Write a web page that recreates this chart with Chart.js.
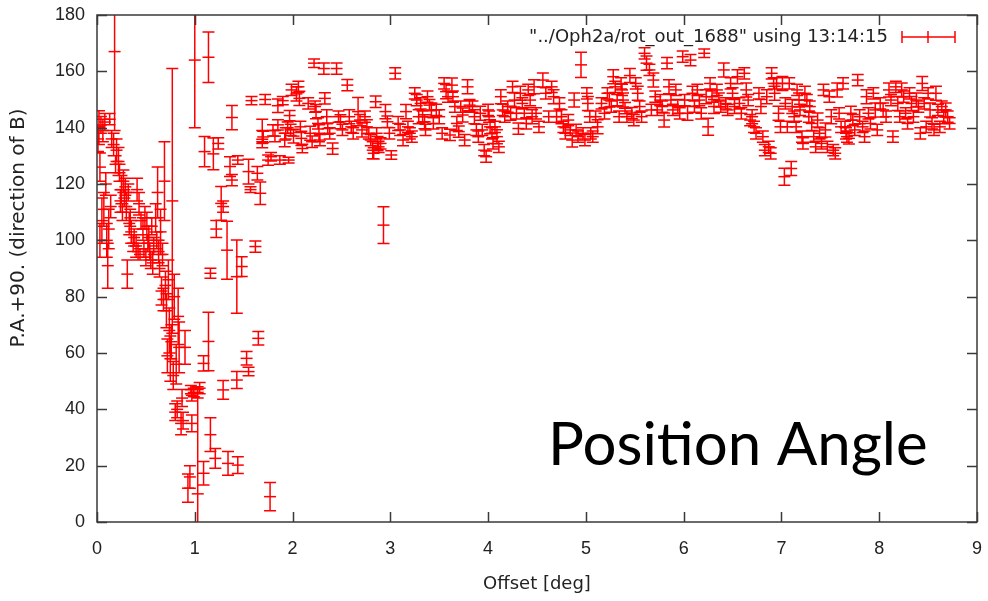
<!DOCTYPE html>
<html>
<head>
<meta charset="utf-8">
<title>Position Angle</title>
<script src="https://cdn.jsdelivr.net/npm/chart.js@4.4.1/dist/chart.umd.min.js"></script>
<style>
  html, body { margin: 0; padding: 0; background: #fff; }
  #wrap { width: 988px; height: 601px; }
</style>
</head>
<body>
<div id="wrap"><canvas id="paChart" width="988" height="601"></canvas></div>
<script>
// offset along the cut [deg], one entry per measurement
const offsetDeg = [
  0.01, 0.02, 0.03, 0.03, 0.04, 0.05, 0.06, 0.07, 0.08, 0.09, 0.10,
  0.11, 0.12, 0.13, 0.14, 0.15, 0.17, 0.18, 0.19, 0.20, 0.22,
  0.23, 0.24, 0.25, 0.26, 0.27, 0.28, 0.29, 0.30, 0.31, 0.32,
  0.33, 0.34, 0.35, 0.37, 0.38, 0.40, 0.41, 0.42, 0.43, 0.44,
  0.45, 0.47, 0.48, 0.49, 0.50, 0.51, 0.52, 0.53, 0.54, 0.55,
  0.56, 0.57, 0.58, 0.60, 0.61, 0.62, 0.63, 0.64, 0.65, 0.66,
  0.67, 0.68, 0.69, 0.70, 0.71, 0.72, 0.73, 0.74, 0.75, 0.76,
  0.77, 0.78, 0.79, 0.80, 0.81, 0.82, 0.83, 0.84, 0.86, 0.87,
  0.88, 0.90, 0.93, 0.95, 0.96, 0.97, 0.97, 0.99, 1.00, 1.03, 1.03,
  1.05, 1.09, 1.09, 1.10, 1.14, 1.14, 1.16, 1.16, 1.19, 1.21,
  1.22, 1.24, 1.27, 1.29, 1.29, 1.33, 1.34, 1.36, 1.38, 1.38,
  1.43, 1.43, 1.44, 1.44, 1.48, 1.53, 1.55, 1.55, 1.57, 1.58,
  1.62, 1.64, 1.65, 1.67, 1.69, 1.69, 1.70, 1.72, 1.75, 1.77,
  1.78, 1.80, 1.82, 1.85, 1.85, 1.87, 1.90, 1.92, 1.93, 1.95,
  1.96, 1.97, 1.98, 1.99, 2.01, 2.04,
  2.06, 2.07, 2.08, 2.09, 2.10,   2.16, 2.18, 2.20,
  2.22, 2.23, 2.24, 2.26, 2.27, 2.28,   2.32, 2.33, 2.35, 2.36, 2.38,   2.41,
  2.45, 2.47, 2.49, 2.51,   2.56, 2.58, 2.60, 2.62,   2.67, 2.69, 2.71,
  2.74, 2.76, 2.78, 2.80, 2.82, 2.83,   2.85, 2.86, 2.87, 2.88,   2.90,   2.93,
  2.95, 2.97, 2.99, 3.01,   3.05,   3.08, 3.10, 3.13,   3.16, 3.18, 3.20, 3.22,
  3.25, 3.27, 3.29,   3.31, 3.33, 3.35, 3.36,   3.38, 3.40, 3.42, 3.44,
  3.47, 3.50, 3.53,   3.55, 3.57, 3.59, 3.61,   3.63, 3.64, 3.66, 3.68, 3.70,
  3.72, 3.74, 3.76,   3.79, 3.81,   3.84, 3.86, 3.88, 3.90,   3.92, 3.94, 3.96, 3.98,
  4.00, 4.01, 4.02, 4.04, 4.05,   4.07, 4.09, 4.11,   4.13, 4.15, 4.17,   4.20, 4.23,
  4.25, 4.27, 4.29, 4.31,   4.33, 4.35, 4.37, 4.39,   4.41, 4.43, 4.45,   4.47, 4.49, 4.52,
  4.56, 4.59, 4.62,   4.65, 4.67, 4.70,   4.73, 4.75, 4.77, 4.79,   4.82, 4.84, 4.86,
  4.88, 4.90, 4.92,   4.95, 4.97, 4.99,   5.01, 5.02, 5.04, 5.05, 5.07,   5.10, 5.12,
  5.16, 5.19,   5.22, 5.24, 5.26,   5.28, 5.30, 5.32, 5.34,
  5.36, 5.37, 5.38, 5.40, 5.42,   5.45, 5.47, 5.49,   5.51, 5.53, 5.55, 5.57,
  5.60, 5.62, 5.65, 5.67,   5.69, 5.71, 5.73,   5.76, 5.78, 5.80,   5.83, 5.85, 5.87, 5.89,
  5.92, 5.94, 5.96,   5.99, 6.01, 6.04,   6.07, 6.09, 6.11,   6.14, 6.16, 6.18,
  6.21, 6.23, 6.25,   6.27, 6.29, 6.31,   6.34, 6.36, 6.38,   6.41, 6.43, 6.45,
  6.48, 6.50, 6.52,   6.55, 6.57, 6.59,   6.62, 6.64, 6.66, 6.68,   6.70, 6.72, 6.74,
  6.77, 6.79, 6.81, 6.83,   6.85, 6.87, 6.89,   6.90, 6.92, 6.93,   6.95, 6.97, 6.99,
  7.03,   7.01, 7.04, 7.06,   7.10,   7.08, 7.11, 7.13, 7.15,   7.16, 7.18, 7.19, 7.21, 7.22,
  7.24, 7.26, 7.28,   7.29, 7.31, 7.33, 7.35,   7.37, 7.39, 7.41,   7.43, 7.45, 7.47,
  7.49, 7.51, 7.53, 7.55,   7.57, 7.59, 7.61,   7.63, 7.65, 7.66, 7.67, 7.69,   7.71, 7.73, 7.75,
  7.78, 7.80, 7.83, 7.85,   7.87, 7.89, 7.91,   7.94, 7.96, 7.98,   8.01, 8.04, 8.07,
  8.10, 8.12, 8.14,   8.17, 8.19, 8.21,   8.23, 8.25, 8.27, 8.29,   8.31, 8.33, 8.35,
  8.38, 8.40, 8.42,   8.44, 8.46, 8.48,   8.50, 8.52, 8.54, 8.56,   8.58, 8.60, 8.62,
  8.64, 8.66,   8.68, 8.70, 8.72
];

// P.A. + 90 (direction of B) [deg]
const paAngle = [
  136, 140, 126, 100, 141, 107, 139, 111, 142, 120, 100,
  91, 104, 143, 112, 136, 134, 167, 127, 132, 128,
  124, 114, 118, 110, 121, 115, 119, 112, 88, 117,
  106, 108, 103, 99, 101, 98, 118, 96, 113, 95,
  107, 104, 97, 108, 94, 105, 99, 101, 96, 93,
  105, 92, 98, 108, 100, 117, 96, 90, 103, 82,
  95, 79, 121, 84, 75, 59, 86, 68, 58, 64,
  114, 52, 80, 39, 56, 40, 73, 62, 35, 44,
  36, 62, 12, 16, 47, 45, 35, 46, 164, 10, 46,
  47.5, 56.3, 17.3, 131.5, 165, 64.1, 88.3, 31, 130.7, 22.6,
  104, 134.4, 113.1, 112, 46.9, 96.5, 20.8, 126.2, 143.6, 121.4,
  87.1, 50.4, 128.5, 20.2, 90.7, 58.1, 124.4, 53.4, 118, 149.6,
  97.8, 123.8, 65.2, 116.7, 139, 134.4, 136.7, 150, 128.5, 9,
  129.7, 139, 137, 147.8, 141, 128.5, 149.6, 135.6, 138, 140,
  128.5, 144.3, 139.2, 153.4, 137, 152,
  154.5, 150.4, 140.3, 136.2, 132.6,   148.6, 138.0, 135.0,
  162.9, 147.5, 145.7, 141.5, 138.0, 135.6,   161.0, 150.4, 143.9, 139.7, 138.0,   132.6,
  161.0, 143.9, 142.1, 139.2,   155.1, 143.9, 140.3, 138.0,   145.7, 142.7, 139.2,
  143.9, 140.3, 138.0, 135.6, 132.0, 130.9,   149.2, 138.0, 134.4, 133.2,   134.4,   105.4,
  145.7, 142.1, 138.0, 130.3,   159.3,   141.5, 139.2, 135.6,   145.7, 140.3, 138.0, 136.8,
  152.2, 149.8, 143.9,   148.6, 143.9, 142.1, 139.2,   151.0, 148.0, 146.3, 141.5,
  146.3, 143.9, 138.0,   155.7, 152.8, 151.0, 137.4,   155.1, 151.0, 147.5, 141.5, 138.6,
  147.5, 144.5, 135.6,   154.5, 148.0,   147.5, 143.9, 139.2, 136.8,   145.1, 139.2, 132.0, 129.7,
  146.3, 143.9, 140.3, 138.0, 134.4,   140.3, 136.8, 133.2,   151.0, 146.3, 143.9,   147.5, 145.1,
  154.5, 149.8, 145.1, 139.7,   152.2, 148.6, 145.1, 141.5,   153.4, 149.8, 143.9,   154.5, 145.1, 140.3,
  156.9, 152.2, 143.9,   154.5, 151.0, 143.9,   148.6, 143.9, 140.3, 138.0,   142.7, 139.2, 135.6,
  149.8, 139.2, 136.8,   162.3, 138.0, 135.6,   152.2, 148.6, 143.9, 138.0, 136.8,   143.9, 140.3,
  148.6, 145.1,   152.2, 149.8, 147.5,   158.1, 154.5, 149.8, 143.9,
  155.7, 153.4, 149.8, 146.9, 143.9,   158.5, 145.2, 142.7,   155.7, 152.2, 147.5, 143.9,
  166.4, 162.9, 160.5, 146.3,   156.9, 151.0, 146.3,   149.8, 147.5, 142.7,   162.9, 154.5, 149.8, 146.3,
  153.4, 147.5, 145.1,   165.2, 149.8, 145.1,   164.0, 152.2, 147.5,   153.4, 149.8, 145.1,
  166.4, 151.0, 140.3,   155.7, 151.0, 147.5,   153.4, 149.8, 147.5,   160.5, 148.6, 146.3,
  155.7, 152.2, 147.5,   158.1, 148.6, 145.1,   159.3, 153.4, 149.8, 142.7,   143.9, 140.3, 138.0,
  152.2, 147.5, 136.8, 132.0,   151.0, 133.2, 130.9,   159.3, 155.7, 152.2,   155.7, 145.1, 140.3,
  122.6,   155.7, 148.6, 140.3,   125.5,   155.7, 147.5, 143.9, 140.3,   153.4, 149.8, 146.3, 136.8, 134.4,
  152.2, 149.8, 143.9,   147.5, 141.5, 136.8, 133.2,   142.7, 138.0, 134.4,   153.4, 139.2, 133.2,
  151.0, 143.9, 132.0, 130.9,   153.4, 145.1, 140.3,   155.7, 140.3, 138.0, 136.8, 136.2,   145.1, 142.7, 139.2,
  156.9, 143.9, 140.3, 136.8,   151.0, 145.1, 141.5,   152.2, 146.3, 139.2,   148.6, 146.3, 143.9,
  153.4, 149.8, 136.8,   154.5, 148.6, 143.9,   153.4, 151.0, 145.1, 141.5,   152.2, 148.6, 143.9,
  149.8, 147.5, 138.0,   155.7, 148.6, 140.3,   152.2, 146.3, 141.5, 139.2,   152.2, 146.3, 140.3,
  147.5, 143.9,   146.3, 143.9, 141.5
];

// half length of each error bar [deg]
const paError = [
  4.5, 6, 5, 6, 3, 8, 4, 6, 3, 4, 6,
  8, 7, 2, 4, 3, 4, 28, 3, 4, 5,
  3, 4, 5, 3, 4, 3, 3, 5, 5, 3,
  4, 3, 4, 3, 3, 4, 4, 3, 4, 2,
  3, 4, 3, 4, 3, 5, 3, 4, 3, 3,
  3, 4, 3, 5, 3, 9, 4, 3, 8, 5,
  4, 4, 14, 5, 6, 6, 7, 8, 8, 6,
  47, 5, 8, 3, 7, 3, 10, 9, 4, 3,
  3, 6, 5, 4, 1.5, 2, 3, 1.5, 24, 37, 2,
  2, 2.7, 4.2, 5.4, 9, 10.4, 1.8, 6, 5.6, 3.5,
  3, 2, 6, 2, 3.3, 10.3, 4.2, 3.5, 4.3, 2,
  13, 3, 1.5, 3, 3.5, 2.4, 4.4, 1.5, 1, 1.5,
  2, 2.4, 2.4, 4, 4, 1.5, 2, 1.8, 1.8, 5,
  1.5, 2, 2, 2.4, 1.8, 1.5, 1.5, 2.4, 2, 2,
  1, 1.8, 2, 2, 2.4, 2.5,
  2, 2.5, 2, 2.5, 1.5,   2, 2.5, 2,
  1.5, 2, 2.5, 2, 3, 2,   2, 2, 2.5, 2, 2,   2,
  2, 2, 2.5, 2,   2, 2.5, 2, 2,   5, 2, 2.5,
  2, 2.5, 2, 2, 3, 2,   2, 2, 2.5, 2,   2,   6.5,
  2.5, 2, 2, 1.5,   2,   2.5, 2, 2,   2.5, 2, 2, 2,
  2, 2, 2.5,   2, 2, 2.5, 2,   2, 2, 2.5, 2,
  2, 2.5, 2,   2, 2.5, 2, 2,   2.5, 2, 2, 2.5, 2,
  2, 2.5, 2,   2.5, 2,   2, 2.5, 2, 2,   2.5, 2, 2, 2,
  2, 2, 2.5, 2, 2,   2, 2.5, 2,   2.5, 2, 2,   2, 2.5,
  2, 2.5, 2, 2,   2.5, 2, 2, 2,   2, 2, 2.5,   2.5, 2, 2,
  2.5, 2, 2,   2, 2.5, 2,   2, 2.5, 2, 2,   2, 2, 2.5,
  2.5, 2, 2,   4.5, 2, 2,   2, 2.5, 2, 2, 2,   2, 2.5,
  2, 2,   2, 2.5, 2,   2.5, 2, 2, 2,
  2, 2, 2.5, 2, 2,   2.5, 2, 2,   2, 2.5, 2, 2,
  2, 2.5, 2, 2,   2.5, 2, 2,   2, 2, 2.5,   2, 2.5, 2, 2,
  2, 2.5, 2,   2, 2, 2.5,   2, 2.5, 2,   2, 2, 2,
  1.5, 2.5, 3,   2, 2, 2.5,   2, 2.5, 2,   2.5, 2, 2,
  2, 2, 2.5,   2.5, 2, 2,   2, 2.5, 2, 2,   2.5, 2, 2,
  2, 2.5, 2, 2,   2.5, 2, 2,   2, 2, 2.5,   2, 2.5, 2,
  3,   2.5, 2, 2,   2.5,   2, 2.5, 2, 2,   2, 2.5, 2, 2, 2,
  2.5, 2, 2,   2, 2.5, 2, 2,   2.5, 2, 2,   2, 2.5, 2,
  2, 2.5, 2, 2,   2.5, 2, 2,   2, 2, 2, 2, 2,   2.5, 2, 2,
  2, 2.5, 2, 2,   2.5, 2, 2,   2, 2.5, 2,   2, 2.5, 2,
  2.5, 2, 2,   2, 2.5, 2,   2.5, 2, 2, 2,   2, 2.5, 2,
  2.5, 2, 2,   2.5, 2, 2,   2, 2.5, 2, 2,   2.5, 2, 2,
  2, 2.5,   2.5, 2, 2
];

const xTicks = [0, 1, 2, 3, 4, 5, 6, 7, 8, 9];
const yTicks = [0, 20, 40, 60, 80, 100, 120, 140, 160, 180];

const legendText = '"../Oph2a/rot_out_1688" using 13:14:15';
const overlayText = 'Position Angle';

const RED = '#ff0000';
const INK = '#222222';
const CAP = 6;   // half width of the error bar caps, px

const n = Math.min(offsetDeg.length, paAngle.length, paError.length);
const points = [];
for (let i = 0; i < n; i++) {
  points.push({ x: offsetDeg[i], y: paAngle[i], err: paError[i] });
}

// vertical error bars with caps, clipped to the plot box like gnuplot does
const errorBars = {
  id: 'errorBars',
  beforeDatasetsDraw(chart) {
    const { ctx, chartArea: a, scales: { x, y } } = chart;
    ctx.save();
    ctx.beginPath();
    ctx.rect(a.left, a.top, a.right - a.left, a.bottom - a.top);
    ctx.clip();
    ctx.strokeStyle = RED;
    ctx.lineWidth = 1.5;
    ctx.beginPath();
    chart.data.datasets[0].data.forEach(p => {
      const px = x.getPixelForValue(p.x);
      const top = y.getPixelForValue(p.y + p.err);
      const bot = y.getPixelForValue(p.y - p.err);
      ctx.moveTo(px, top); ctx.lineTo(px, bot);
      ctx.moveTo(px - CAP, top); ctx.lineTo(px + CAP, top);
      ctx.moveTo(px - CAP, bot); ctx.lineTo(px + CAP, bot);
    });
    ctx.stroke();
    ctx.restore();
  }
};

// border box, inward mirror ticks, key, y label and the big overlay text
const gnuplotFrame = {
  id: 'gnuplotFrame',
  afterDraw(chart) {
    const { ctx, chartArea: a, scales: { x, y } } = chart;
    const tl = 10;
    ctx.save();
    ctx.strokeStyle = '#3a3a3a';
    ctx.lineWidth = 1.5;
    ctx.strokeRect(a.left, a.top, a.right - a.left, a.bottom - a.top);
    ctx.beginPath();
    xTicks.forEach(v => {
      const px = Math.round(x.getPixelForValue(v)) + 0.5;
      ctx.moveTo(px, a.bottom); ctx.lineTo(px, a.bottom - tl);
      ctx.moveTo(px, a.top); ctx.lineTo(px, a.top + tl);
    });
    yTicks.forEach(v => {
      const py = Math.round(y.getPixelForValue(v)) + 0.5;
      ctx.moveTo(a.left, py); ctx.lineTo(a.left + tl, py);
      ctx.moveTo(a.right, py); ctx.lineTo(a.right - tl, py);
    });
    ctx.stroke();

    // key
    const ky = 37;
    ctx.fillStyle = INK;
    ctx.font = '18px "DejaVu Sans", sans-serif';
    ctx.textAlign = 'right';
    ctx.textBaseline = 'middle';
    ctx.fillText(legendText, 888, ky);
    ctx.strokeStyle = RED;
    ctx.beginPath();
    ctx.moveTo(902, ky); ctx.lineTo(955, ky);
    [902, 928, 955].forEach(kx => { ctx.moveTo(kx, ky - 6); ctx.lineTo(kx, ky + 6); });
    ctx.stroke();

    // y axis label
    ctx.save();
    ctx.translate(19, 228);
    ctx.rotate(-Math.PI / 2);
    ctx.textAlign = 'center';
    ctx.fillStyle = INK;
    ctx.font = '20px "DejaVu Sans", sans-serif';
    ctx.fillText('P.A.+90. (direction of B)', 0, 0);
    ctx.restore();

    // slide caption
    ctx.fillStyle = '#000';
    ctx.font = '60px Lato, "Open Sans", sans-serif';
    ctx.textAlign = 'left';
    ctx.textBaseline = 'alphabetic';
    ctx.fillText(overlayText, 548, 465);
    ctx.restore();
  }
};

const whiteBg = {
  id: 'whiteBg',
  beforeDraw(chart) {
    const { ctx, width, height } = chart;
    ctx.save();
    ctx.fillStyle = '#fff';
    ctx.fillRect(0, 0, width, height);
    ctx.restore();
  }
};

new Chart(document.getElementById('paChart'), {
  type: 'scatter',
  data: {
    datasets: [{
      label: legendText,
      data: points,
      showLine: false,
      pointStyle: 'line',
      pointRadius: 6,
      pointHoverRadius: 6,
      borderColor: RED,
      backgroundColor: RED,
      pointBorderWidth: 1.5
    }]
  },
  options: {
    responsive: false,
    animation: false,
    events: [],
    layout: { padding: { top: 15, right: 11, left: 0, bottom: 0 } },
    plugins: {
      legend: { display: false },
      tooltip: { enabled: false }
    },
    scales: {
      x: {
        type: 'linear',
        min: 0,
        max: 9,
        grid: { display: false, drawTicks: false },
        border: { display: false },
        afterBuildTicks: s => { s.ticks = xTicks.map(v => ({ value: v })); },
        afterFit: s => { s.height = 79; s.paddingLeft = 0; s.paddingRight = 0; },
        ticks: {
          padding: 16,
          color: INK,
          maxRotation: 0,
          font: { family: '"Liberation Sans", sans-serif', size: 18 }
        },
        title: {
          display: true,
          text: 'Offset [deg]',
          color: INK,
          font: { family: '"DejaVu Sans", sans-serif', size: 18 },
          padding: { top: 0, bottom: 6 }
        }
      },
      y: {
        type: 'linear',
        min: 0,
        max: 180,
        grid: { display: false, drawTicks: false },
        border: { display: false },
        afterBuildTicks: s => { s.ticks = yTicks.map(v => ({ value: v })); },
        afterFit: s => { s.width = 97; s.paddingTop = 0; s.paddingBottom = 0; },
        ticks: {
          padding: 12,
          color: INK,
          font: { family: '"Liberation Sans", sans-serif', size: 18 }
        }
      }
    }
  },
  plugins: [whiteBg, errorBars, gnuplotFrame]
});
</script>
</body>
</html>
